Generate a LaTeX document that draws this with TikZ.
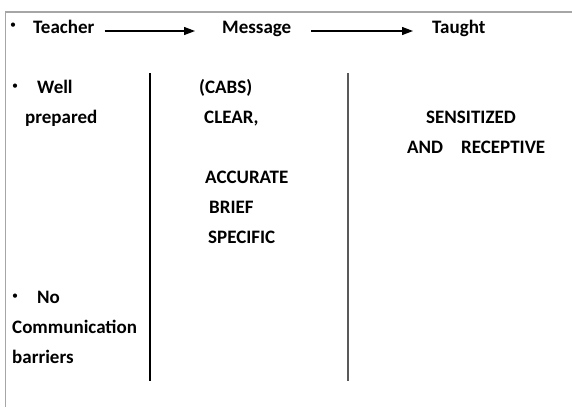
\documentclass[tikz,border=0pt]{standalone}
\usepackage{fontspec}
\setmainfont{Carlito}
\usetikzlibrary{arrows.meta,calc}
\begin{document}
\begin{tikzpicture}[x=1pt,y=-1pt,
  txt/.style={anchor=base west,inner sep=0pt,font=\fontsize{19}{22}\selectfont\bfseries},
  bul/.style={anchor=base,inner sep=0pt,font=\fontsize{12}{14}\selectfont},
  arr/.style={line width=1.2pt,-{Triangle[length=11pt,width=8pt]}},
  frame/.style={draw=gray!70,line width=1.5pt},
  divider/.style={line width=1.3pt}]
\useasboundingbox (0,0) rectangle (572,407);
\fill[white] (0,0) rectangle (572,407);
% frame (top and left edges)
\draw[frame] (572,12) -- (5.5,12) -- (5.5,407);
% column dividers
\coordinate (d1t) at (150,73); \coordinate (d1b) at (150,381);
\coordinate (d2t) at (348,73); \coordinate (d2b) at (348,381);
\draw[divider,black] (d1t) -- (d1b);
\draw[divider,black!65] (d2t) -- (d2b);
% header row
\node[bul] (b0) at (13,28.5) {•};
\node[txt] (teacher) at (33,33) {Teacher};
\node[txt] (message) at (222,33) {Message};
\node[txt] (taught) at (432,33) {Taught};
\draw[arr] ($(teacher.base east)+(10,-2)$) -- ($(message.base west)+(-27,-2)$);
\draw[arr] ($(message.base east)+(20,-2)$) -- ($(taught.base west)+(-19,-2)$);
% left column
\node[bul] (b1) at (15,89.5) {•};
\node[txt] (well) at (37,93) {Well};
\node[txt] (prep) at (25,123) {prepared};
\node[bul] (b2) at (15,299.5) {•};
\node[txt] (no) at (37,303) {No};
\node[txt] (comm) at (12,333) {Communication};
\node[txt] (barr) at (12,363) {barriers};
% middle column
\node[txt] (cabs) at (199,93) {(CABS)};
\node[txt] (clear) at (204,123) {CLEAR,};
\node[txt] (accu) at (205,183) {ACCURATE};
\node[txt] (brief) at (209,213) {BRIEF};
\node[txt] (spec) at (208,243) {SPECIFIC};
% right column
\node[txt] (sens) at (426,123) {SENSITIZED};
\node[txt] (andr) at (407,153) {AND\hspace{18pt}RECEPTIVE};
\end{tikzpicture}
\end{document}
